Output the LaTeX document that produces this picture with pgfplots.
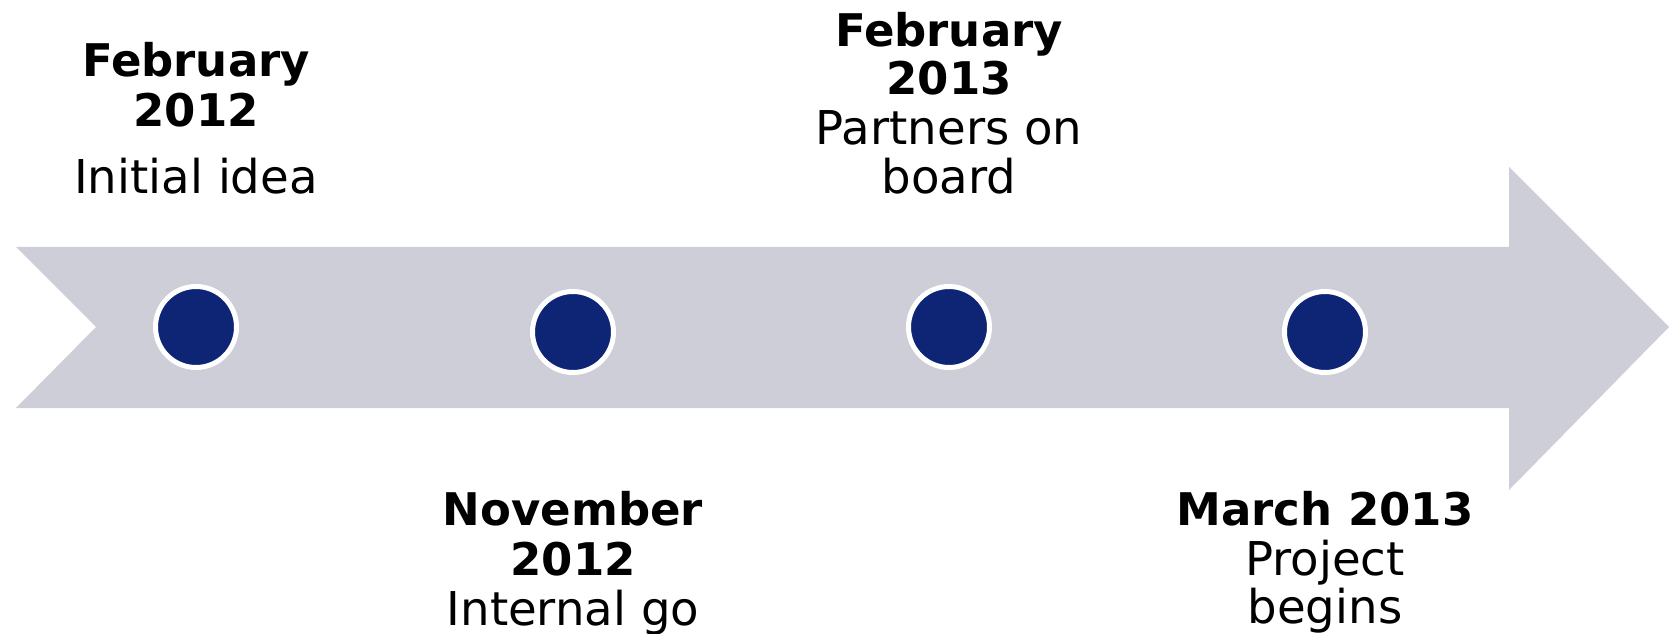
\documentclass[border=0pt]{standalone}
\usepackage{pgfplots}
\pgfplotsset{compat=1.18}
\usepackage{fontspec}
\setmainfont{DejaVu Sans}
\definecolor{arrowgray}{HTML}{CDCED8}
\definecolor{navy}{HTML}{0E2575}
\begin{document}
\begin{tikzpicture}
\useasboundingbox (0,0) rectangle (834.5pt,316.5pt);
\begin{axis}[
  width=834.5pt, height=316.5pt, scale only axis,
  xmin=0, xmax=1669, ymin=0, ymax=633,
  hide axis, clip=false,
  at={(0,0)}, anchor=south west,
]
% arrow
\addplot[fill=arrowgray, draw=none] coordinates {
  (16,386) (1509,386) (1509,466) (1669,306) (1509,143) (1509,225) (16,225) (96,306)
} -- cycle;
% milestones
\addplot[only marks, mark=*, mark size=20.25pt,
  mark options={fill=navy, draw=white, line width=2.5pt}] coordinates {
  (196,306) (573,301) (949,306) (1325,301)
};
\tikzset{tb/.style={anchor=base, inner sep=0pt, font=\fontsize{22.5}{24}\selectfont\bfseries},
         tr/.style={anchor=base, inner sep=0pt, font=\fontsize{23.3}{24}\selectfont}}
\node[tb] at (axis cs:196,556) {February};
\node[tb] at (axis cs:196,506) {2012};
\node[tr] at (axis cs:196,439) {Initial idea};
\node[tb] at (axis cs:573,108) {November};
\node[tb] at (axis cs:573,58) {2012};
\node[tr] at (axis cs:573,8) {Internal go};
\node[tb] at (axis cs:949,586) {February};
\node[tb] at (axis cs:949,538) {2013};
\node[tr] at (axis cs:949,488) {Partners on};
\node[tr] at (axis cs:949,439) {board};
\node[tb] at (axis cs:1325,108) {March 2013};
\node[tr] at (axis cs:1325,58) {Project};
\node[tr] at (axis cs:1325,10) {begins};
\end{axis}
\end{tikzpicture}
\end{document}
